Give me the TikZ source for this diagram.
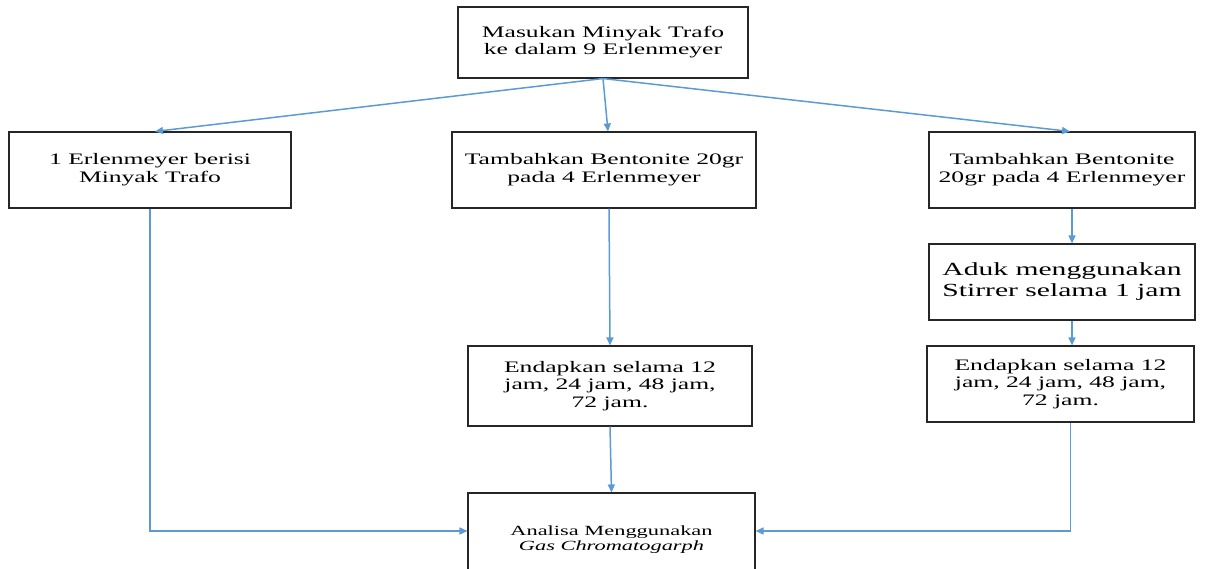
\documentclass[tikz,border=0pt]{standalone}
\usepackage{fontspec}
\setmainfont{Liberation Serif}
\usepackage{graphicx}
\usetikzlibrary{arrows.meta,positioning}
\definecolor{flowblue}{RGB}{91,155,213}
\newcommand{\widetext}[1]{\scalebox{1.6}[1]{\begin{tabular}{@{}c@{}}#1\end{tabular}}}

\begin{document}
\begin{tikzpicture}[
  x=1pt, y=-1pt,
  >={Triangle[length=8pt, width=7pt]},
  box/.style={rectangle, draw=black!85, line width=1.1pt, fill=white, inner sep=0pt,
              align=center, font=\fontsize{16}{17.5}\selectfont},
  bigbox/.style={box, font=\fontsize{18.5}{21}\selectfont},
  smallbox/.style={box, font=\fontsize{14}{15}\selectfont},
  flow/.style={->, line width=1.5pt, draw=flowblue},
]
\useasboundingbox (0,0) rectangle (1210,569);

% --- nodes ---
\node[box, minimum width=290pt, minimum height=71pt] (load) at (603,42.5)
  {\widetext{Masukan Minyak Trafo\\ke dalam 9 Erlenmeyer}};

\node[box, minimum width=282pt, minimum height=76pt] (blank) at (150,170)
  {\widetext{1 Erlenmeyer berisi\\Minyak Trafo}};
\node[box, minimum width=304pt, minimum height=76pt] (addM) at (604,170)
  {\widetext{Tambahkan Bentonite 20gr\\pada 4 Erlenmeyer}};
\node[box, minimum width=266pt, minimum height=76pt] (addR) at (1062,170)
  {\widetext{Tambahkan Bentonite\\20gr pada 4 Erlenmeyer}};

\node[bigbox, minimum width=266pt, minimum height=76pt] (stir) at (1062,282)
  {\widetext{Aduk menggunakan\\Stirrer selama 1 jam}};

\node[box, minimum width=284pt, minimum height=80pt] (settleM) at (610,386)
  {\widetext{Endapkan selama 12\\jam, 24 jam, 48 jam,\\72 jam.}};
\node[box, minimum width=267pt, minimum height=76pt] (settleR) at (1060.5,384)
  {\widetext{Endapkan selama 12\\jam, 24 jam, 48 jam,\\72 jam.}};

\node[smallbox, minimum width=287pt, minimum height=94pt] (gc) at (611.5,540)
  {\widetext{Analisa Menggunakan\\\textit{Gas Chromatogarph}}};

% --- flows ---
\draw[flow] (load.south) -- ([xshift=5pt]blank.north);
\draw[flow] (load.south) -- ([xshift=4pt]addM.north);
\draw[flow] (load.south) -- ([xshift=8pt]addR.north);

\draw[flow] ([xshift=5pt]addM.south) -- (settleM.north);
\draw[flow] (settleM.south) -- (gc.north);

\draw[flow] ([xshift=10pt]addR.south) -- ([xshift=10pt]stir.north);
\draw[flow] ([xshift=10pt]stir.south) -- ([xshift=11.5pt]settleR.north);
\draw[flow] ([xshift=10pt]settleR.south) |- ([yshift=9pt]gc.east);

\draw[flow] (blank.south) |- ([yshift=9pt]gc.west);

\end{tikzpicture}
\end{document}
